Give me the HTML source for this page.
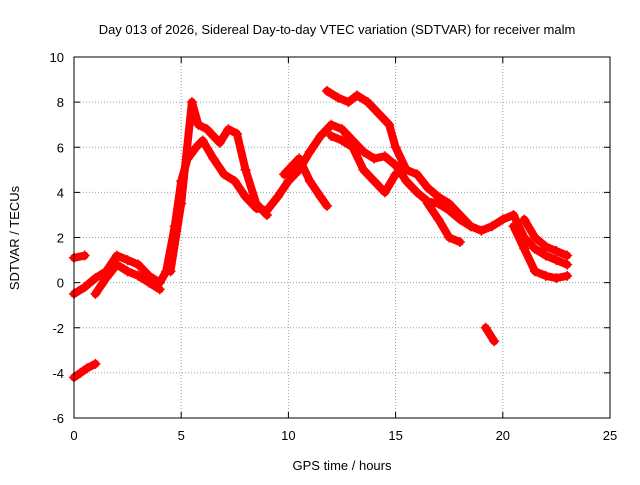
<!DOCTYPE html>
<html><head><meta charset="utf-8"><style>
body{margin:0;background:#fff}
svg{font-family:"Liberation Sans",sans-serif;font-size:13px}
</style></head><body>
<svg width="640" height="480">
<rect width="640" height="480" fill="#fff"/>
<text x="337" y="34" text-anchor="middle">Day 013 of 2026, Sidereal Day-to-day VTEC variation (SDTVAR) for receiver malm</text>
<g id="grid"></g>
<g id="axes"></g>
<g id="series"></g>
<rect x="74" y="57" width="536" height="361" fill="none" stroke="#000"/>
<text x="342" y="470" text-anchor="middle">GPS time / hours</text>
<text transform="translate(19,238) rotate(-90)" text-anchor="middle">SDTVAR / TECUs</text>
</svg>
<script>
const xTicks=[0,5,10,15,20,25];
const yTicks=[-6,-4,-2,0,2,4,6,8,10];
const mainX=[0,0.5,1,1.5,2,2.5,3,3.5,4,4.3,4.7,5,5.3,5.7,6,6.5,7,7.5,8,8.5,9,9.5,10,10.5,11,11.5,12,12.5,13,13.5,14,14.5,15,15.5,16,16.5,17,17.5,18,18.5,19,19.5,20,20.5,21,21.5,22,22.5,23];
const mainY=[-0.5,-0.2,0.2,0.5,1.2,1.0,0.8,0.3,0,0.5,2.5,4.5,5.5,6,6.3,5.5,4.8,4.5,3.8,3.3,3.2,3.8,4.5,5,5.8,6.5,7.0,6.8,6.3,5.8,5.5,5.6,5.2,4.5,4.0,3.6,3.5,3.2,2.8,2.5,2.3,2.5,2.8,3.0,2.0,1.5,1.2,1.0,0.8];
const upperAX=[4.5,5,5.5,5.8,6.2,6.8,7.2,7.6,8,8.5,9];
const upperAY=[0.5,3.5,8,7,6.8,6.2,6.8,6.6,5,3.5,3.0];
const upperBX=[11.8,12.3,12.8,13.2,13.7,14.2,14.7,15,15.5,16,16.5,17,17.5,18,18.5];
const upperBY=[8.5,8.2,8.0,8.3,8.0,7.5,7.0,6.0,5.0,4.8,4.2,3.8,3.5,3.0,2.5];
const branch1X=[9.8,10.5,11,11.5,11.8];
const branch1Y=[4.8,5.5,4.5,3.8,3.4];
const branch2X=[12,12.5,13,13.5,14,14.5,15];
const branch2Y=[6.5,6.3,6.0,5.0,4.5,4.0,4.8];
const branch3X=[16.5,17,17.5,18];
const branch3Y=[3.5,2.8,2.0,1.8];
const branch4X=[20.5,21,21.5,22,22.5,23];
const branch4Y=[2.5,1.5,0.5,0.3,0.2,0.3];
const branch5X=[21,21.5,22,22.5,23];
const branch5Y=[2.8,2.0,1.6,1.4,1.2];
const lowX=[0,0.3,0.6,1];
const lowY=[-4.2,-4.0,-3.8,-3.6];
const negX=[19.2,19.6];
const negY=[-2,-2.6];
const startX=[0,0.5];
const startY=[1.1,1.2];
const lowBandX=[1,1.5,2,2.5,3,3.5,4];
const lowBandY=[-0.5,0.2,0.8,0.5,0.3,0.0,-0.3];

const X0=74,X1=610,Y0=418,Y1=57;
const sx=v=>X0+(v-0)/25*(X1-X0);
const sy=v=>Y0-(v+6)/16*(Y0-Y1);
const NS="http://www.w3.org/2000/svg";
function mk(tag,attrs,parent){const e=document.createElementNS(NS,tag);for(const k in attrs)e.setAttribute(k,attrs[k]);parent.appendChild(e);return e;}
const grid=document.getElementById('grid'),axes=document.getElementById('axes'),ser=document.getElementById('series');
xTicks.forEach(t=>{const x=sx(t);
 if(t>0&&t<25){const l=mk('line',{x1:x,x2:x,y1:Y1,y2:Y0,stroke:'#a0a0a0','stroke-dasharray':'1,2'},grid);
 
 }
 mk('line',{x1:x,x2:x,y1:Y0,y2:Y0-6,stroke:'#000'},axes);mk('line',{x1:x,x2:x,y1:Y1,y2:Y1+6,stroke:'#000'},axes);
 const tx=mk('text',{x:x,y:Y0+22,'text-anchor':'middle'},axes);tx.textContent=t;
 
 
});
yTicks.forEach(t=>{const y=sy(t);
 if(t>-6&&t<10){const l=mk('line',{x1:X0,x2:X1,y1:y,y2:y,stroke:'#a0a0a0','stroke-dasharray':'1,2'},grid);
 
 }
 mk('line',{x1:X0,x2:X0+6,y1:y,y2:y,stroke:'#000'},axes);mk('line',{x1:X1,x2:X1-6,y1:y,y2:y,stroke:'#000'},axes);
 const tx=mk('text',{x:X0-10,y:y+5,'text-anchor':'end'},axes);tx.textContent=t;
 
 
});
function track(xs,ys,name){
 const g=mk('g',{},ser);
 
 
 const pts=xs.map((x,i)=>sx(x)+','+sy(ys[i])).join(' ');
 mk('polyline',{points:pts,fill:'none',stroke:'#f00','stroke-width':8,'stroke-linejoin':'round','stroke-linecap':'round'},g);
 xs.forEach((x,i)=>{const px=sx(x),py=sy(ys[i]);
  const p=mk('path',{d:`M${px-5},${py}h10M${px},${py-5}v10`,stroke:'#f00','stroke-width':1.5},g);
  
  
 });
}
track(mainX,mainY,'series-main');
track(upperAX,upperAY,'series-upper-a');
track(upperBX,upperBY,'series-upper-b');
track(branch1X,branch1Y,'series-branch-1');
track(branch2X,branch2Y,'series-branch-2');
track(branch3X,branch3Y,'series-branch-3');
track(branch4X,branch4Y,'series-branch-4');
track(branch5X,branch5Y,'series-branch-5');
track(lowX,lowY,'series-low');
track(negX,negY,'series-negative');
track(startX,startY,'series-start');
track(lowBandX,lowBandY,'series-low-band');
</script>
</body></html>
